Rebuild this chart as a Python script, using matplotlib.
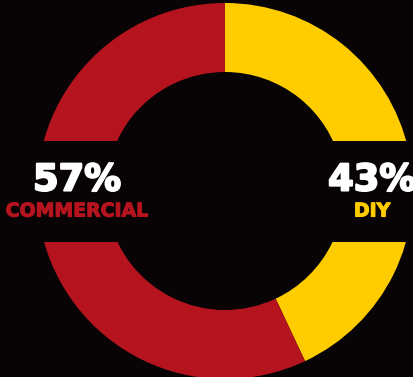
import matplotlib.pyplot as plt
import matplotlib.patheffects as pe
from matplotlib.patches import Rectangle

# segment data
labels = ['DIY', 'COMMERCIAL']
shares = [43, 57]
colors = ['#FFCC00', '#B5141E']
bg = '#080304'

W, H = 414, 377
fig = plt.figure(figsize=(W / 100, H / 100), dpi=100, facecolor=bg)
ax = fig.add_axes([0, 0, 1, 1], facecolor=bg)

cx, cy, r = 225, H - 191, 188
ax.pie(shares, colors=colors, startangle=90, counterclock=False,
       center=(cx, cy), radius=r, frame=True,
       wedgeprops=dict(width=r - 119, linewidth=0))

ax.set_xlim(0, W)
ax.set_ylim(0, H)
ax.set_aspect('equal')
ax.axis('off')

# black bands behind the labels
ax.add_patch(Rectangle((0, H - 242), 165, 101, color=bg, zorder=5, lw=0))
ax.add_patch(Rectangle((318, H - 242), 100, 101, color=bg, zorder=5, lw=0))

font = ['DejaVu Sans']
big = dict(color='white', fontsize=26.5, fontweight='bold', family=font,
           ha='center', va='center', zorder=6,
           path_effects=[pe.withStroke(linewidth=1.5, foreground='white')])
small = dict(fontsize=13.6, fontweight='bold', family=font,
             ha='center', va='center', zorder=6)
# left label (commercial)
ax.text(77, H - 180, f'{shares[1]}%', **big)
ax.text(77, H - 211, labels[1], color=colors[1],
        path_effects=[pe.withStroke(linewidth=0.8, foreground=colors[1])], **small)
# right label (diy)
ax.text(372, H - 180, f'{shares[0]}%', **big)
ax.text(372, H - 211, labels[0], color=colors[0],
        path_effects=[pe.withStroke(linewidth=0.8, foreground=colors[0])], **small)

fig.savefig('out.png', dpi=100, facecolor=bg)
